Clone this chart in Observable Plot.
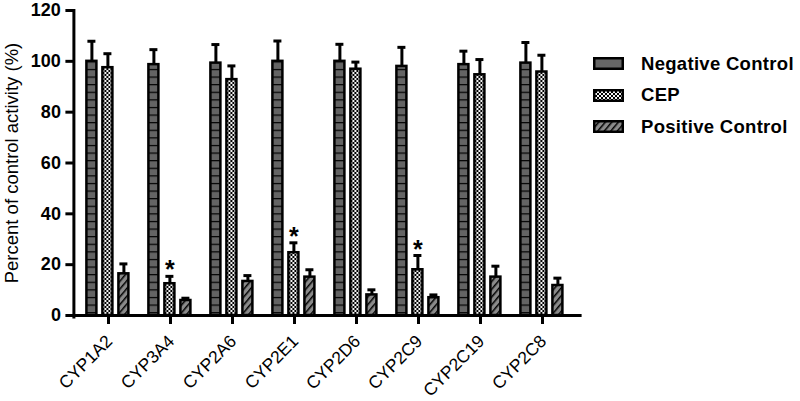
<!DOCTYPE html>
<html>
<head>
<meta charset="utf-8">
<script src="https://cdn.jsdelivr.net/npm/d3@7"></script>
<script src="https://cdn.jsdelivr.net/npm/@observablehq/plot@0.6"></script>
<style>
  body { margin: 0; background: #fff; }
  #wrap { position: relative; width: 800px; height: 401px; font-family: "Liberation Sans", Arial, Helvetica, sans-serif; color: #000; }
  #legend { position: absolute; left: 593px; top: 48px; }
  .row { display: flex; align-items: center; height: 31.5px; }
  .row svg { display: block; margin-right: 17px; }
  .row span { font-size: 18.5px; font-weight: bold; letter-spacing: 0.3px; }
  g[aria-label="y-axis label"] text { font-weight: normal !important; font-size: 18.5px !important; }
</style>
</head>
<body>
<div id="wrap"></div>
<script>
const categories = ["CYP1A2","CYP3A4","CYP2A6","CYP2E1","CYP2D6","CYP2C9","CYP2C19","CYP2C8"];
const series = ["Negative Control","CEP","Positive Control"];
const negMean = [100, 98.7, 99.3, 100, 100, 98, 98.7, 99.3];
const negErr  = [7.9, 5.9, 7.3, 8, 6.7, 7.5, 5.3, 8.1];
const cepMean = [97.5, 12.5, 92.8, 24.7, 96.9, 18, 94.7, 95.8];
const cepErr  = [5.5, 2.9, 5.4, 3.9, 2.8, 5.6, 6, 6.6];
const posMean = [16.4, 5.9, 13.4, 15.1, 8.1, 7, 15.1, 11.8];
const posErr  = [3.9, 0.9, 2.3, 2.9, 2, 1.1, 4.3, 2.9];
const significant = ["CYP3A4","CYP2E1","CYP2C9"];
const yTicks = [0, 20, 40, 60, 80, 100, 120];

const rows = categories.flatMap((c, i) => [
  {cat: c, series: series[0], mean: negMean[i], err: negErr[i]},
  {cat: c, series: series[1], mean: cepMean[i], err: cepErr[i]},
  {cat: c, series: series[2], mean: posMean[i], err: posErr[i]}
]);
const errTop = d => d.mean + d.err;

const plot = Plot.plot({
  width: 800,
  height: 401,
  marginLeft: 74.6,
  marginRight: 223.6,
  marginTop: 10,
  marginBottom: 86,
  style: {fontFamily: '"Liberation Sans", Arial, Helvetica, sans-serif', color: "#000", background: "#fff"},
  fx: {domain: categories, paddingInner: 0, paddingOuter: 0},
  x: {domain: series, paddingInner: 0.35, paddingOuter: 0.52, axis: null},
  y: {domain: [0, 120]},
  color: {type: "ordinal", domain: series, range: ["url(#negPat)", "url(#cepPat)", "url(#posPat)"]},
  marks: [
    Plot.barY(rows, {fx: "cat", x: "series", y: "mean", fill: "series", stroke: "#000", strokeWidth: 2.5}),
    Plot.ruleX(rows, {fx: "cat", x: "series", y1: "mean", y2: errTop, stroke: "#000", strokeWidth: 3}),
    Plot.tickY(rows, {fx: "cat", x: "series", y: errTop, stroke: "#000", strokeWidth: 3, insetLeft: 1, insetRight: 1}),
    Plot.text(rows.filter(d => d.series === "CEP" && significant.includes(d.cat)),
      {fx: "cat", x: "series", y: errTop, text: () => "*", fontSize: 25, fontWeight: "bold", dy: -6}),
    Plot.frame({anchor: "bottom", facet: "super", stroke: "#000", strokeWidth: 3, insetLeft: -3.6, insetRight: -6.6}),
    Plot.frame({anchor: "left", facet: "super", stroke: "#000", strokeWidth: 3, insetLeft: -3.6, insetBottom: -1.5}),
    Plot.axisY({ticks: yTicks, tickSize: 8, tickPadding: 5, dx: -3.6, strokeWidth: 3, fontSize: 18, fontWeight: "bold",
      label: "Percent of control activity (%)", labelAnchor: "center", labelArrow: "none", labelOffset: 73}),
    Plot.axisFx({anchor: "bottom", tickSize: 9, strokeWidth: 3, tickFormat: () => "", label: null}),
    Plot.axisFx({anchor: "bottom", tickSize: 0, tickPadding: 23, dx: 1, tickRotate: -45, fontSize: 17.5, label: null})
  ]
});

const defs = `
<pattern id="negPat" patternUnits="userSpaceOnUse" width="8" height="7.6" y="0.5">
  <rect width="8" height="7.6" fill="#646464"/>
  <rect y="0" width="8" height="1.2" fill="#000"/>
</pattern>
<pattern id="cepPat" patternUnits="userSpaceOnUse" width="4" height="4">
  <rect width="4" height="4" fill="#f2f2f2"/>
  <rect width="2" height="2" fill="#000"/>
  <rect x="2" y="2" width="2" height="2" fill="#000"/>
</pattern>
<pattern id="posPat" patternUnits="userSpaceOnUse" width="5" height="5" patternTransform="rotate(40)">
  <rect width="5" height="5" fill="#8a8a8a"/>
  <rect width="1.5" height="5" fill="#000"/>
</pattern>
<pattern id="negSw" patternUnits="userSpaceOnUse" width="4" height="4">
  <rect width="4" height="4" fill="#666"/>
</pattern>`;
d3.select(plot).insert("defs", ":first-child").html(defs);

const wrap = document.getElementById("wrap");
wrap.appendChild(plot);

const legend = document.createElement("div");
legend.id = "legend";
const swatchFill = ["url(#negSw)", "url(#cepPat)", "url(#posPat)"];
series.forEach((s, i) => {
  const row = document.createElement("div");
  row.className = "row";
  row.innerHTML = `<svg width="31" height="13"><rect x="1.25" y="1.25" width="28.5" height="10.5" fill="${swatchFill[i]}" stroke="#000" stroke-width="2.5"/></svg><span>${s}</span>`;
  legend.appendChild(row);
});
wrap.appendChild(legend);
</script>
</body>
</html>
